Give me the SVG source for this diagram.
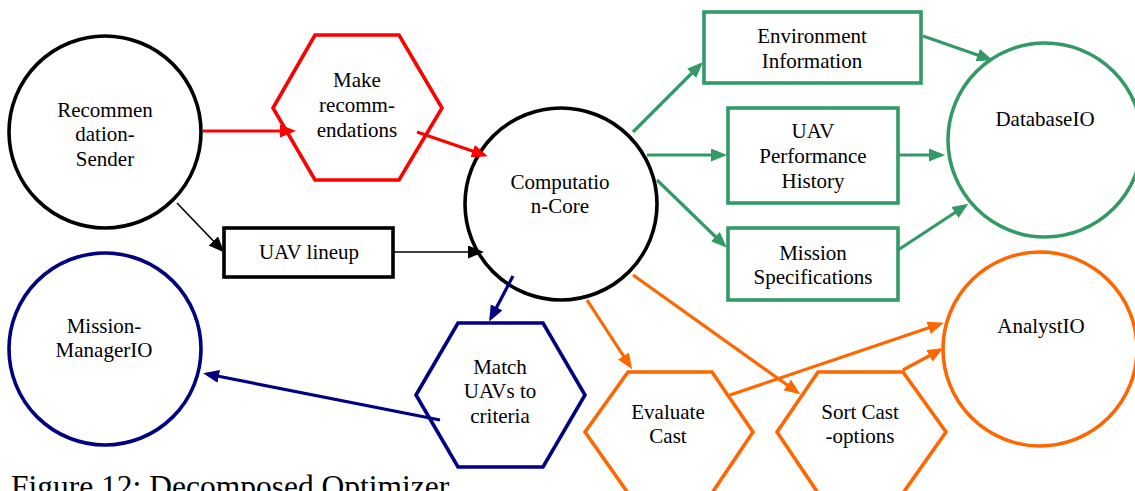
<svg xmlns="http://www.w3.org/2000/svg" width="1135" height="491" viewBox="0 0 1135 491" font-family="'Liberation Serif', 'Times New Roman', serif">
  <style>
    text { font-family: 'Liberation Serif', 'Times New Roman', serif; }
    .lbl { font-size: 21px; fill: #000; text-anchor: middle; }
    .cap { font-size: 31.5px; fill: #000; }
    .shape { fill: #fff; stroke-width: 3.6; }
    .blk { stroke: #000; }
    .red { stroke: #ff0000; }
    .grn { stroke: #339966; }
    .nvy { stroke: #000080; }
    .org { stroke: #ff6600; }
    .edge { fill: none; stroke-width: 3.2; }
    .thin { fill: none; stroke: #000; stroke-width: 1.6; }
  </style>
  <defs>
    <marker id="ah-red" markerUnits="userSpaceOnUse" markerWidth="16" markerHeight="14" refX="12" refY="6.5" orient="auto">
      <path d="M0,0 L16,6.5 L0,13 z" fill="#ff0000"/>
    </marker>
    <marker id="ah-grn" markerUnits="userSpaceOnUse" markerWidth="16" markerHeight="14" refX="12" refY="6.5" orient="auto">
      <path d="M0,0 L16,6.5 L0,13 z" fill="#339966"/>
    </marker>
    <marker id="ah-nvy" markerUnits="userSpaceOnUse" markerWidth="16" markerHeight="14" refX="12" refY="6.5" orient="auto">
      <path d="M0,0 L16,6.5 L0,13 z" fill="#000080"/>
    </marker>
    <marker id="ah-org" markerUnits="userSpaceOnUse" markerWidth="16" markerHeight="14" refX="12" refY="6.5" orient="auto">
      <path d="M0,0 L16,6.5 L0,13 z" fill="#ff6600"/>
    </marker>
    <marker id="ah-blk" markerUnits="userSpaceOnUse" markerWidth="16" markerHeight="14" refX="14" refY="6.5" orient="auto">
      <path d="M0,0 L16,6.5 L0,13 z" fill="#000"/>
    </marker>
  </defs>

  <rect width="1135" height="491" fill="#fff"/>

  <!-- nodes -->
  <g id="recommendation-sender">
    <circle class="shape blk" cx="105" cy="132" r="96"/>
    <text class="lbl" font-family="'Liberation Serif', serif" x="105" y="117">Recommen</text>
    <text class="lbl" font-family="'Liberation Serif', serif" x="105" y="141">dation-</text>
    <text class="lbl" font-family="'Liberation Serif', serif" x="105" y="166">Sender</text>
  </g>

  <g id="make-recommendations">
    <polygon class="shape red" points="273,108 315,35 399,35 442,108 399,180 315,180"/>
    <text class="lbl" font-family="'Liberation Serif', serif" x="357" y="87">Make</text>
    <text class="lbl" font-family="'Liberation Serif', serif" x="357" y="112">recomm-</text>
    <text class="lbl" font-family="'Liberation Serif', serif" x="357" y="137">endations</text>
  </g>

  <g id="uav-lineup">
    <rect class="shape blk" x="224" y="228" width="169" height="49"/>
    <text class="lbl" font-family="'Liberation Serif', serif" x="309" y="259">UAV lineup</text>
  </g>

  <g id="computation-core">
    <circle class="shape blk" cx="561" cy="204" r="96"/>
    <text class="lbl" font-family="'Liberation Serif', serif" x="560" y="189">Computatio</text>
    <text class="lbl" font-family="'Liberation Serif', serif" x="560" y="213">n-Core</text>
  </g>

  <g id="environment-information">
    <rect class="shape grn" x="704" y="12" width="217" height="71"/>
    <text class="lbl" font-family="'Liberation Serif', serif" x="812" y="43">Environment</text>
    <text class="lbl" font-family="'Liberation Serif', serif" x="812" y="68">Information</text>
  </g>

  <g id="uav-performance-history">
    <rect class="shape grn" x="728" y="108" width="170" height="95"/>
    <text class="lbl" font-family="'Liberation Serif', serif" x="813" y="138">UAV</text>
    <text class="lbl" font-family="'Liberation Serif', serif" x="813" y="163">Performance</text>
    <text class="lbl" font-family="'Liberation Serif', serif" x="813" y="188">History</text>
  </g>

  <g id="mission-specifications">
    <rect class="shape grn" x="728" y="228" width="170" height="72"/>
    <text class="lbl" font-family="'Liberation Serif', serif" x="813" y="260">Mission</text>
    <text class="lbl" font-family="'Liberation Serif', serif" x="813" y="284">Specifications</text>
  </g>

  <g id="database-io">
    <circle class="shape grn" cx="1045" cy="140" r="97"/>
    <text class="lbl" font-family="'Liberation Serif', serif" x="1045" y="126">DatabaseIO</text>
  </g>

  <g id="analyst-io">
    <circle class="shape org" cx="1040" cy="349" r="97"/>
    <text class="lbl" font-family="'Liberation Serif', serif" x="1041" y="333">AnalystIO</text>
  </g>

  <g id="mission-manager-io">
    <circle class="shape nvy" cx="105" cy="349" r="96"/>
    <text class="lbl" font-family="'Liberation Serif', serif" x="104" y="333">Mission-</text>
    <text class="lbl" font-family="'Liberation Serif', serif" x="104" y="357">ManagerIO</text>
  </g>

  <g id="match-uavs">
    <polygon class="shape nvy" points="416,395 458,323 543,323 585,395 543,467 458,467"/>
    <text class="lbl" font-family="'Liberation Serif', serif" x="500" y="374">Match</text>
    <text class="lbl" font-family="'Liberation Serif', serif" x="500" y="398">UAVs to</text>
    <text class="lbl" font-family="'Liberation Serif', serif" x="500" y="423">criteria</text>
  </g>

  <g id="evaluate-cast">
    <polygon class="shape org" points="585,432 628,372 712,372 753,432 712,493 628,493"/>
    <text class="lbl" font-family="'Liberation Serif', serif" x="668" y="419">Evaluate</text>
    <text class="lbl" font-family="'Liberation Serif', serif" x="668" y="443">Cast</text>
  </g>

  <g id="sort-cast-options">
    <polygon class="shape org" points="777,432 818,372 903,372 946,432 903,493 818,493"/>
    <text class="lbl" font-family="'Liberation Serif', serif" x="860" y="419">Sort Cast</text>
    <text class="lbl" font-family="'Liberation Serif', serif" x="860" y="443">-options</text>
  </g>

  <!-- connectors -->
  <g id="connectors">
    <line class="edge red" x1="203" y1="131" x2="292" y2="131" marker-end="url(#ah-red)"/>
    <line class="edge red" x1="417" y1="132" x2="484" y2="155" marker-end="url(#ah-red)"/>

    <line class="thin" x1="177" y1="203" x2="223" y2="251" marker-end="url(#ah-blk)"/>
    <line class="thin" x1="393" y1="252" x2="482" y2="252" marker-end="url(#ah-blk)"/>

    <line class="edge grn" x1="633" y1="132" x2="700" y2="65" marker-end="url(#ah-grn)"/>
    <line class="edge grn" x1="647" y1="155" x2="723" y2="155" marker-end="url(#ah-grn)"/>
    <line class="edge grn" x1="657" y1="180" x2="724" y2="245" marker-end="url(#ah-grn)"/>
    <line class="edge grn" x1="923" y1="36" x2="989" y2="59" marker-end="url(#ah-grn)"/>
    <line class="edge grn" x1="898" y1="155" x2="941" y2="155" marker-end="url(#ah-grn)"/>
    <line class="edge grn" x1="898" y1="250" x2="965" y2="206" marker-end="url(#ah-grn)"/>

    <line class="edge nvy" x1="513" y1="276" x2="491" y2="318" marker-end="url(#ah-nvy)"/>
    <line class="edge nvy" x1="440" y1="420" x2="207" y2="374" marker-end="url(#ah-nvy)"/>

    <line class="edge org" x1="587" y1="300" x2="630" y2="366" marker-end="url(#ah-org)"/>
    <line class="edge org" x1="633" y1="275" x2="797" y2="392" marker-end="url(#ah-org)"/>
    <line class="edge org" x1="730" y1="395" x2="940" y2="324" marker-end="url(#ah-org)"/>
    <line class="edge org" x1="903" y1="370" x2="940" y2="350" marker-end="url(#ah-org)"/>
  </g>

  <text class="cap" x="11" y="497">Figure 12: Decomposed Optimizer</text>
</svg>
